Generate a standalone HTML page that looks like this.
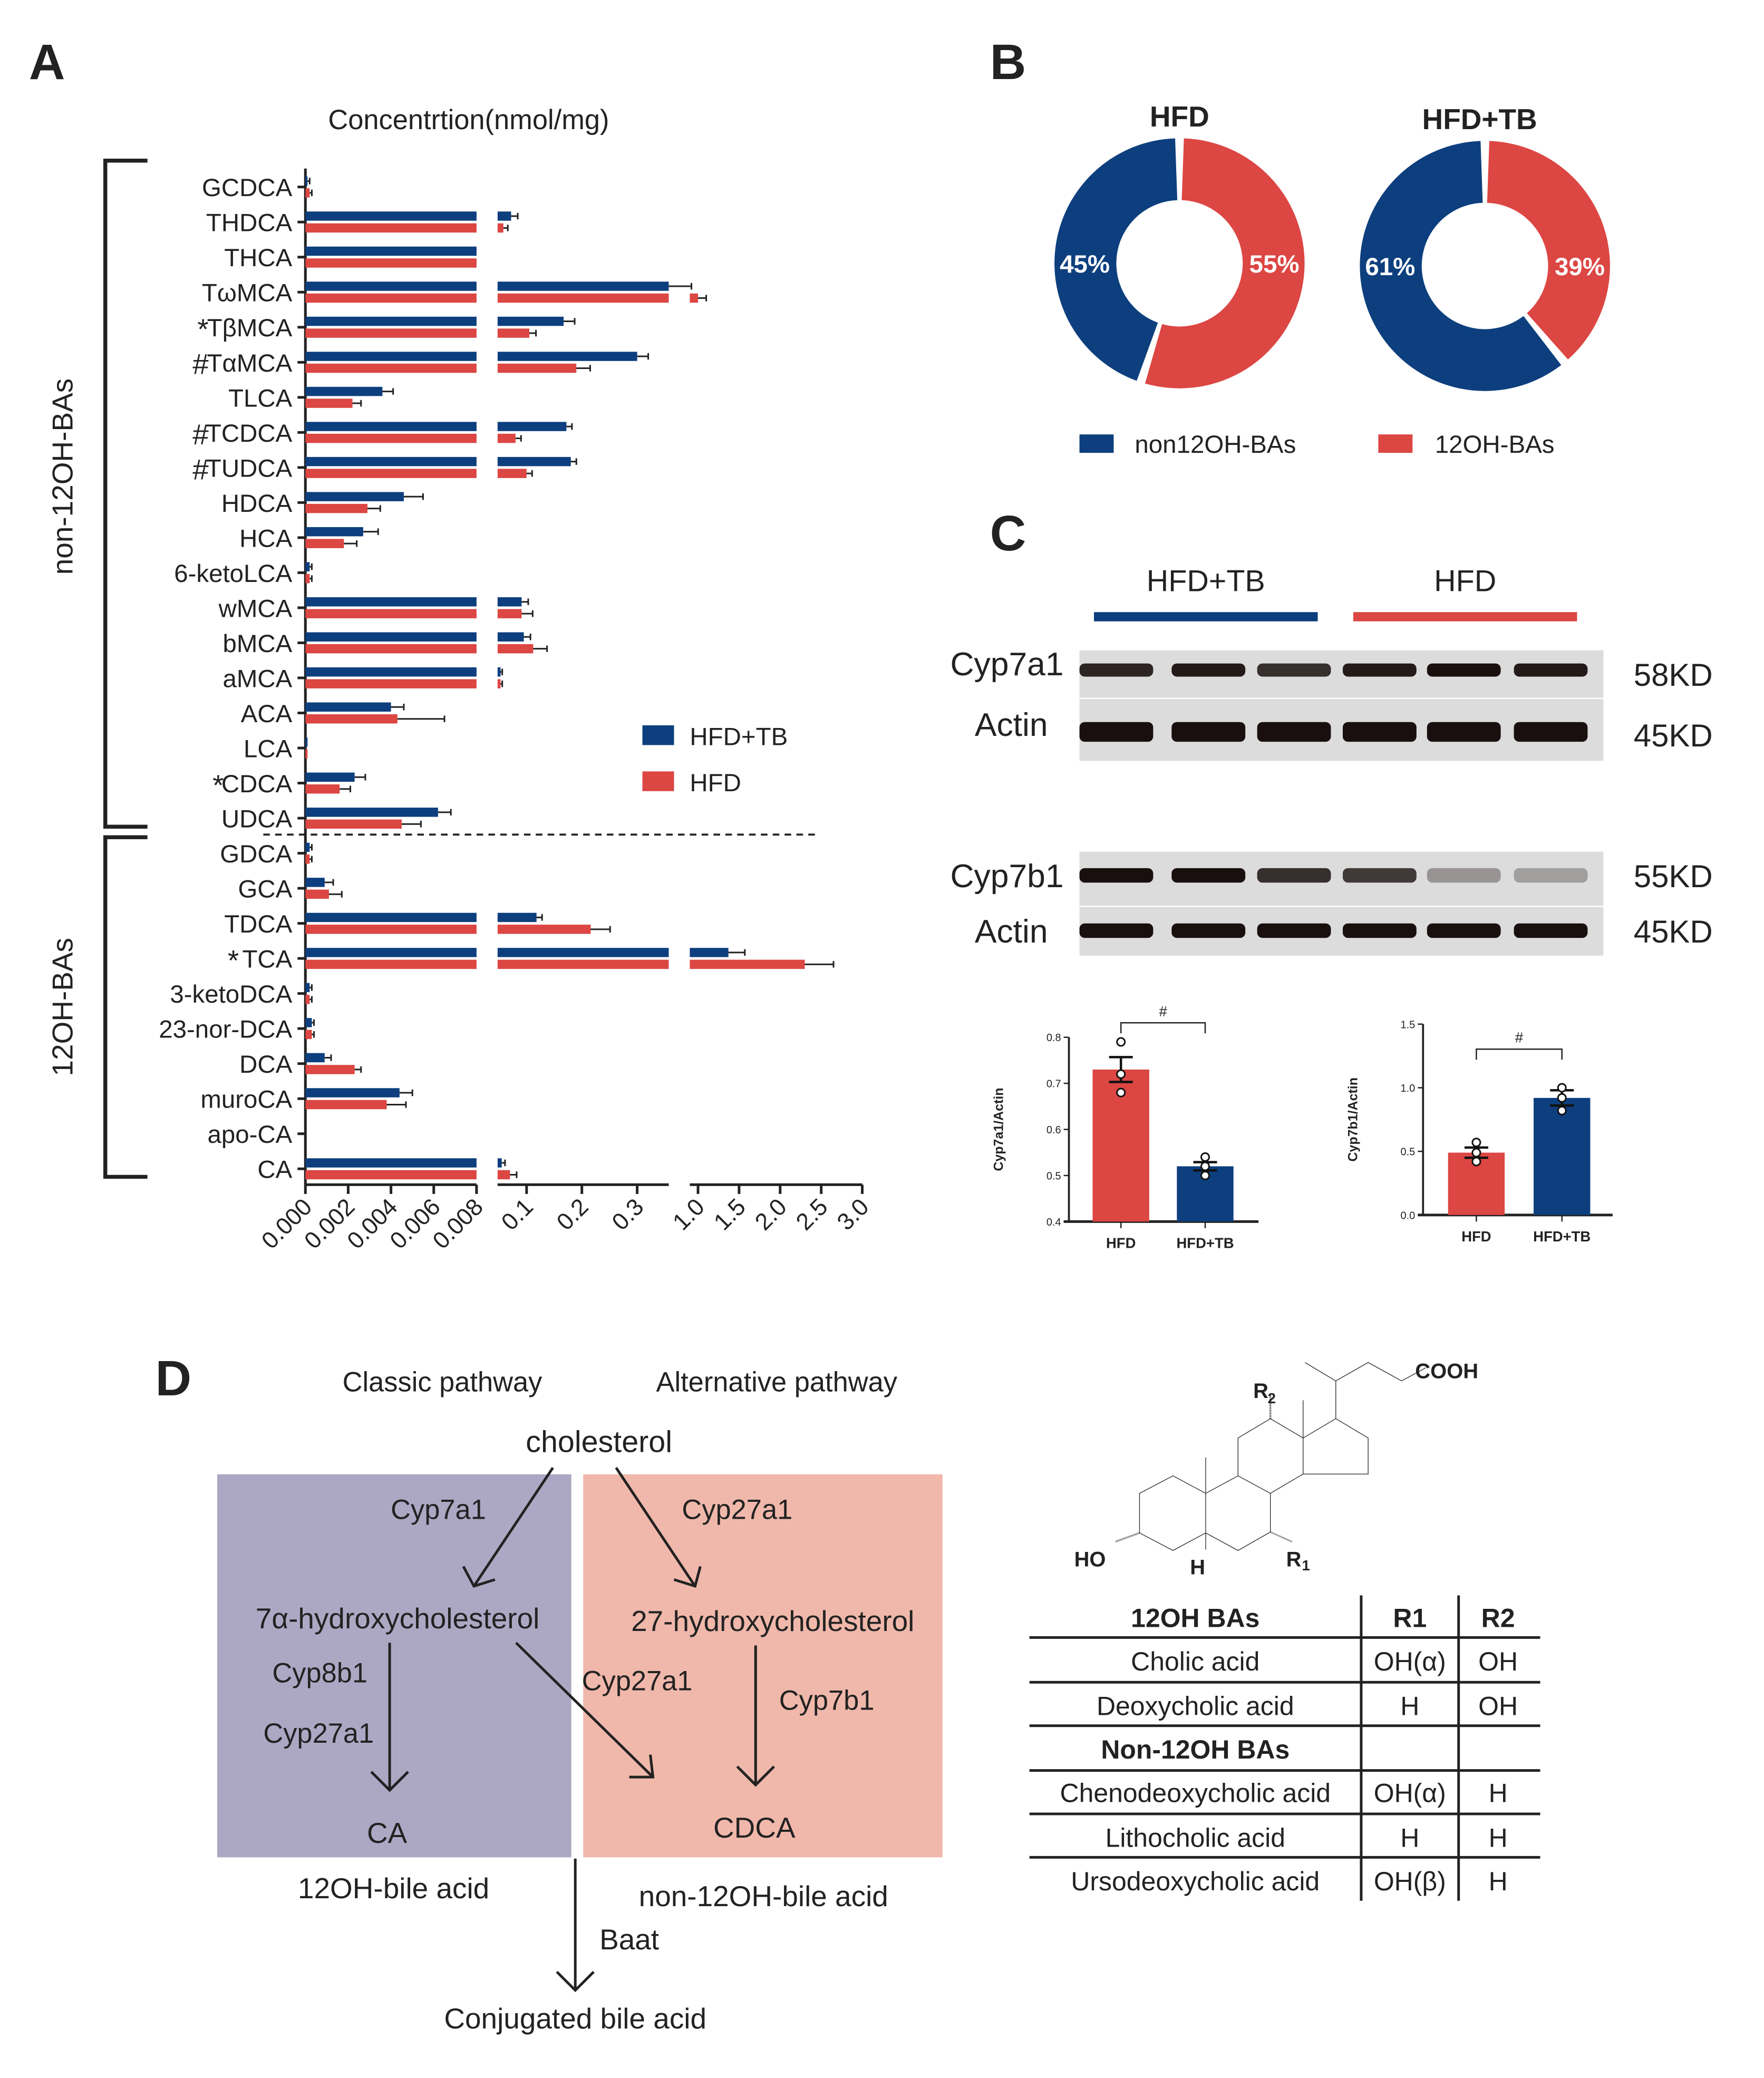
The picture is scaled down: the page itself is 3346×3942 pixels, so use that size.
<!DOCTYPE html>
<html><head><meta charset="utf-8"><style>
html,body{margin:0;padding:0;background:#fff}
svg{display:block}
text{font-family:"Liberation Sans",sans-serif;fill:#222}
</style></head><body>
<svg id="fig" width="3346" height="3942" viewBox="0 0 1340 1578.6" xmlns="http://www.w3.org/2000/svg">
<rect width="1340" height="1578.6" fill="#fff"/>
<g id="panelA">
<text x="22" y="60" font-size="38" font-weight="bold">A</text>
<text x="356" y="98" font-size="21" text-anchor="middle">Concentrtion(nmol/mg)</text>
<path d="M112,122 H80 V628 H112" fill="none" stroke="#222" stroke-width="3"/>
<path d="M112,636 H80 V894 H112" fill="none" stroke="#222" stroke-width="3"/>
<text transform="translate(55,362) rotate(-90)" font-size="22" text-anchor="middle">non-12OH-BAs</text>
<text transform="translate(55,765) rotate(-90)" font-size="22" text-anchor="middle">12OH-BAs</text>
<line x1="200" y1="634" x2="620" y2="634" stroke="#222" stroke-width="1.5" stroke-dasharray="5,4"/>
<g id="chartA"></g>
<rect x="488" y="551" width="24" height="15" fill="#0d3f7e"/>
<text x="524" y="566" font-size="19">HFD+TB</text>
<rect x="488" y="586" width="24" height="15" fill="#dc4643"/>
<text x="524" y="601" font-size="19">HFD</text>
</g>

<g id="panelB">
<text x="752" y="60" font-size="38" font-weight="bold">B</text>
<text x="896" y="96" font-size="22" font-weight="bold" text-anchor="middle">HFD</text>
<text x="1124" y="98" font-size="22" font-weight="bold" text-anchor="middle">HFD+TB</text>
<g id="donuts"></g>
<rect x="820" y="330" width="26" height="14" fill="#0d3f7e"/>
<text x="862" y="344" font-size="19">non12OH-BAs</text>
<rect x="1047" y="330" width="26" height="14" fill="#dc4643"/>
<text x="1090" y="344" font-size="19">12OH-BAs</text>
</g>

<g id="panelC">
<text x="752" y="418" font-size="38" font-weight="bold">C</text>
<text x="916" y="449" font-size="23" text-anchor="middle">HFD+TB</text>
<text x="1113" y="449" font-size="23" text-anchor="middle">HFD</text>
<rect x="831" y="465" width="170" height="7" fill="#0d3f7e"/>
<rect x="1028" y="465" width="170" height="7" fill="#dc4643"/>
<g id="blots"></g>
<text x="808" y="513" font-size="25" text-anchor="end">Cyp7a1</text>
<text x="796" y="559" font-size="25" text-anchor="end">Actin</text>
<text x="808" y="674" font-size="25" text-anchor="end">Cyp7b1</text>
<text x="796" y="716" font-size="25" text-anchor="end">Actin</text>
<text x="1241" y="521" font-size="24">58KD</text>
<text x="1241" y="567" font-size="24">45KD</text>
<text x="1241" y="674" font-size="24">55KD</text>
<text x="1241" y="716" font-size="24">45KD</text>
<g id="barsC"></g>
</g>

<g id="panelD">
<text x="118" y="1060" font-size="38" font-weight="bold">D</text>
<text x="336" y="1057" font-size="21" text-anchor="middle">Classic pathway</text>
<text x="590" y="1057" font-size="21" text-anchor="middle">Alternative pathway</text>
<rect x="165" y="1120" width="269" height="291" fill="#aca8c4"/>
<rect x="443" y="1120" width="273" height="291" fill="#f0b8ab"/>
<text x="455" y="1103" font-size="23" text-anchor="middle">cholesterol</text>
<g stroke="#222" stroke-width="2" fill="none">
<path d="M420,1115 L360,1205 M352,1190 L360,1205 L376,1200"/>
<path d="M468,1115 L528,1205 M512,1200 L528,1205 L532,1190"/>
<path d="M296,1248 V1360 M282,1346 L296,1360 L310,1346"/>
<path d="M392,1248 L496,1350 M478,1350 L496,1350 L494,1333"/>
<path d="M574,1250 V1356 M560,1342 L574,1356 L588,1342"/>
<path d="M437,1412 V1512 M423,1498 L437,1512 L451,1498"/>
</g>
<text x="333" y="1154" font-size="21" text-anchor="middle">Cyp7a1</text>
<text x="560" y="1154" font-size="21" text-anchor="middle">Cyp27a1</text>
<text x="302" y="1237" font-size="22" text-anchor="middle">7α-hydroxycholesterol</text>
<text x="587" y="1239" font-size="22" text-anchor="middle">27-hydroxycholesterol</text>
<text x="243" y="1278" font-size="21" text-anchor="middle">Cyp8b1</text>
<text x="242" y="1324" font-size="21" text-anchor="middle">Cyp27a1</text>
<text x="484" y="1284" font-size="21" text-anchor="middle">Cyp27a1</text>
<text x="628" y="1299" font-size="21" text-anchor="middle">Cyp7b1</text>
<text x="294" y="1400" font-size="22" text-anchor="middle">CA</text>
<text x="573" y="1396" font-size="22" text-anchor="middle">CDCA</text>
<text x="299" y="1442" font-size="22" text-anchor="middle">12OH-bile acid</text>
<text x="580" y="1448" font-size="22" text-anchor="middle">non-12OH-bile acid</text>
<text x="478" y="1481" font-size="22" text-anchor="middle">Baat</text>
<text x="437" y="1541" font-size="22" text-anchor="middle">Conjugated bile acid</text>

<g>
<g transform="translate(780.9,1009) scale(0.2824,0.1335)" stroke="#333" stroke-width="1.4" fill="none">
<path vector-effect="non-scaling-stroke" d="M300,940 L390,840 L478,940 L478,1165 L390,1265 L300,1165 Z"/>
<path vector-effect="non-scaling-stroke" d="M478,940 L565,840 L652,940 L652,1160 L565,1265 L478,1165"/>
<path vector-effect="non-scaling-stroke" d="M565,840 L565,625 L652,515 L740,625 L740,830 L652,940"/>
<path vector-effect="non-scaling-stroke" d="M740,625 L828,515 L915,625 L915,830 L740,830"/>
<path vector-effect="non-scaling-stroke" d="M828,515 L828,300 L745,195 M828,300 L915,195 L1005,300 L1070,225"/>
<path vector-effect="non-scaling-stroke" d="M478,940 L478,735 M740,625 L740,410 M478,1165 L478,1260"/>
<path vector-effect="non-scaling-stroke" d="M652,515 L652,380" stroke-dasharray="1.5,1.5" stroke-width="3.5"/>
<path vector-effect="non-scaling-stroke" d="M300,1165 L235,1215" stroke-dasharray="1,1.2" stroke-width="3.5"/>
<path vector-effect="non-scaling-stroke" d="M652,1160 L710,1215" stroke-dasharray="1,1.2" stroke-width="3"/>
</g>
<text x="1075" y="1047" font-size="16" font-weight="bold">COOH</text>
<text x="952" y="1062" font-size="16" font-weight="bold">R</text>
<text x="963" y="1066" font-size="11" font-weight="bold">2</text>
<text x="816" y="1190" font-size="16" font-weight="bold">HO</text>
<text x="904" y="1196" font-size="16" font-weight="bold">H</text>
<text x="977" y="1190" font-size="16" font-weight="bold">R</text>
<text x="989" y="1193" font-size="11" font-weight="bold">1</text>
</g>

<g>
<g stroke="#222" stroke-width="2">
<line x1="782" y1="1244" x2="1170" y2="1244"/>
<line x1="782" y1="1278" x2="1170" y2="1278"/>
<line x1="782" y1="1311" x2="1170" y2="1311"/>
<line x1="782" y1="1345" x2="1170" y2="1345"/>
<line x1="782" y1="1378" x2="1170" y2="1378"/>
<line x1="782" y1="1411" x2="1170" y2="1411"/>
<line x1="1034" y1="1212" x2="1034" y2="1444"/>
<line x1="1108" y1="1212" x2="1108" y2="1444"/>
</g>
<g font-size="20" text-anchor="middle">
<text x="908" y="1236" font-weight="bold">12OH BAs</text><text x="1071" y="1236" font-weight="bold">R1</text><text x="1138" y="1236" font-weight="bold">R2</text>
<text x="908" y="1269">Cholic acid</text><text x="1071" y="1269">OH(α)</text><text x="1138" y="1269">OH</text>
<text x="908" y="1303">Deoxycholic acid</text><text x="1071" y="1303">H</text><text x="1138" y="1303">OH</text>
<text x="908" y="1336" font-weight="bold">Non-12OH BAs</text>
<text x="908" y="1369">Chenodeoxycholic acid</text><text x="1071" y="1369">OH(α)</text><text x="1138" y="1369">H</text>
<text x="908" y="1403">Lithocholic acid</text><text x="1071" y="1403">H</text><text x="1138" y="1403">H</text>
<text x="908" y="1436">Ursodeoxycholic acid</text><text x="1071" y="1436">OH(β)</text><text x="1138" y="1436">H</text>
</g>
</g>
</g>
</svg>
<script>
const NS="http://www.w3.org/2000/svg";
const categories=["GCDCA","THDCA","THCA","TωMCA","TβMCA","TαMCA","TLCA","TCDCA","TUDCA","HDCA","HCA","6-ketoLCA","wMCA","bMCA","aMCA","ACA","LCA","CDCA","UDCA","GDCA","GCA","TDCA","TCA","3-ketoDCA","23-nor-DCA","DCA","muroCA","apo-CA","CA"];
const marks=["","","","","*","#","","#","#","","","","","","","","","*","","","","","*","","","","","",""];
const hfdtbValues=[0.0001,0.072,0.0081,0.9,0.167,0.30,0.0036,0.172,0.18,0.0046,0.0027,0.0002,0.091,0.095,0.053,0.0040,0.0001,0.0023,0.0062,0.0002,0.0009,0.118,1.37,0.0002,0.0003,0.0009,0.0044,0.0,0.055];
const hfdValues=[0.0002,0.058,0.0081,1.0,0.105,0.19,0.0022,0.080,0.10,0.0029,0.0018,0.0002,0.091,0.112,0.053,0.0043,0.0001,0.0016,0.0045,0.0002,0.0011,0.216,2.3,0.0002,0.0003,0.0023,0.0038,0.0,0.070];
const hfdtbErr=[0.0001,0.012,0,0.02,0.02,0.02,0.0005,0.01,0.01,0.0009,0.0007,0.0001,0.012,0.012,0.003,0.0006,0,0.0005,0.0006,0.0001,0.0004,0.01,0.2,0.0001,0.0001,0.0003,0.0006,0,0.006];
const hfdErr=[0.0001,0.008,0,0.1,0.012,0.025,0.0004,0.01,0.01,0.0006,0.0006,0.0001,0.02,0.025,0.003,0.0022,0,0.0005,0.0009,0.0001,0.0006,0.035,0.35,0.0001,0.0001,0.0003,0.0009,0,0.012];
const ticks1=["0.000","0.002","0.004","0.006","0.008"];const tickVals1=[0,0.002,0.004,0.006,0.008];
const ticks2=["0.1","0.2","0.3"];const tickVals2=[0.1,0.2,0.3];
const ticks3=["1.0","1.5","2.0","2.5","3.0"];const tickVals3=[1.0,1.5,2.0,2.5,3.0];
const donutNames=["HFD","HFD+TB"];const donutNon12=[45,61];const donut12=[55,39];
const barGroups=["HFD","HFD+TB"];
const cyp7a1Values=[0.73,0.52];const cyp7a1Err=[0.027,0.009];
const cyp7a1Points=[[0.79,0.72,0.68],[0.54,0.52,0.50]];
const cyp7b1Values=[0.49,0.92];const cyp7b1Err=[0.04,0.06];
const cyp7b1Points=[[0.57,0.49,0.42],[1.0,0.92,0.82]];
const cyp7a1Ticks=[0.4,0.5,0.6,0.7,0.8];const cyp7b1Ticks=[0,0.5,1.0,1.5];
const blot1Bands=[0.9,0.95,0.85,0.95,1,0.95];const actin1Bands=[1,1,1,1,1,1];
const blot2Bands=[1,1,0.85,0.8,0.35,0.3];const actin2Bands=[1,1,1,1,1,1];

function el(tag,attrs,parent){const e=document.createElementNS(NS,tag);for(const k in attrs)e.setAttribute(k,attrs[k]);parent.appendChild(e);return e;}
const BLUE="#0d3f7e",RED="#dc4643";
const y0=142,step=26.64,axX=232,axY=900;
const s1=[232,362,0,0.008],s2=[378,508,0.0476,0.3571],s3=[524,655,0.9,3.0];
function sx(s,v){return s[0]+(v-s[2])/(s[3]-s[2])*(s[1]-s[0]);}
function rowY(i){return y0+i*step;}
function pieces(v){const p=[];if(v>0)p.push([s1[0],sx(s1,Math.min(v,s1[3]))]);
if(v>s2[2])p.push([s2[0],sx(s2,Math.min(v,s2[3]))]);
if(v>s3[2])p.push([s3[0],sx(s3,Math.min(v,s3[3]))]);return p;}
function endX(v){if(v>s3[2])return sx(s3,v);if(v>s2[2])return sx(s2,Math.min(v,s2[3]));return sx(s1,Math.min(v,s1[3]));}
const gA=document.getElementById("chartA");
el("line",{x1:axX,y1:128,x2:axX,y2:axY,stroke:"#222","stroke-width":2},gA);
[s1,s2,s3].forEach((s,k)=>{const l=el("line",{x1:s[0],y1:axY,x2:s[1],y2:axY,stroke:"#222","stroke-width":2},gA);

});
function tickSet(s,vals,labs){vals.forEach((v,i)=>{const x=sx(s,v);el("line",{x1:x,y1:axY,x2:x,y2:axY+7,stroke:"#222","stroke-width":2},gA);
const t=el("text",{transform:`translate(${x+6},${axY+18}) rotate(-45)`,"font-size":18,"text-anchor":"end"},gA);t.textContent=labs[i];

});}
tickSet(s1,tickVals1,ticks1);tickSet(s2,tickVals2,ticks2);tickSet(s3,tickVals3,ticks3);
categories.forEach((c,i)=>{const y=rowY(i);
el("line",{x1:axX-6,y1:y,x2:axX,y2:y,stroke:"#222","stroke-width":2},gA);
const t=el("text",{x:axX-10,y:y+7,"font-size":19,"text-anchor":"end"},gA);t.textContent=c;


if(marks[i]){const m=el("text",{x:axX-10-c.length*11.5-6,y:y+9,"font-size":22,"text-anchor":"end"},gA);m.textContent=marks[i];

}
[[hfdtbValues,hfdtbErr,BLUE,y-8,'bar-hfdtb'],[hfdValues,hfdErr,RED,y+1,'bar-hfd']].forEach(([vals,errs,col,yy,nm])=>{
pieces(vals[i]).forEach(p=>{const r=el("rect",{x:p[0],y:yy,width:Math.max(p[1]-p[0],0.5),height:7,fill:col},gA);

});
if(errs[i]>0){const x1=endX(vals[i]),x2=endX(vals[i]+errs[i]);
el("path",{d:`M${x1},${yy+3.5} H${x2} M${x2},${yy+1} V${yy+6}`,stroke:"#222","stroke-width":1.2,fill:"none"},gA);}
});});
const gD=document.getElementById("donuts");const centers=[[896,200],[1128,202]];
function arc(cx,cy,R,r,a0,a1){const p=(a,rad)=>[cx+rad*Math.sin(a),cy-rad*Math.cos(a)];const lg=(a1-a0)>Math.PI?1:0;
const [x0,y0_]=p(a0,R),[x1,y1]=p(a1,R),[x2,y2]=p(a1,r),[x3,y3]=p(a0,r);
return `M${x0},${y0_} A${R},${R} 0 ${lg} 1 ${x1},${y1} L${x2},${y2} A${r},${r} 0 ${lg} 0 ${x3},${y3} Z`;}
donutNames.forEach((n,i)=>{const [cx,cy]=centers[i];const g=0.07;const redEnd=donut12[i]/100*2*Math.PI;
const pr=el("path",{d:arc(cx,cy,95,48,g/2,redEnd-g/2),fill:RED},gD);


const pb=el("path",{d:arc(cx,cy,95,48,redEnd+g/2,2*Math.PI-g/2),fill:BLUE},gD);


const tl=el("text",{x:cx-72,y:cy+7,"font-size":19,"font-weight":"bold","text-anchor":"middle"},gD);tl.textContent=donutNon12[i]+"%";tl.style.fill="#fff";


const tr=el("text",{x:cx+72,y:cy+7,"font-size":19,"font-weight":"bold","text-anchor":"middle"},gD);tr.textContent=donut12[i]+"%";tr.style.fill="#fff";

});
const gB=document.getElementById("blots");const laneX=[848,918,983,1048,1112,1178];
function blot(y,h,bands,bandY,bh,nm){const r=el("rect",{x:820,y:y,width:398,height:h,fill:"#dcdcdc"},gB);


bands.forEach((b,k)=>{const e=el("rect",{x:laneX[k]-28,y:bandY-bh/2,width:56,height:bh,rx:4,fill:"#1a0f0f","fill-opacity":b},gB);

});}
blot(494,36,blot1Bands,509,10,'blot-cyp7a1');blot(531,47,actin1Bands,556,15,'blot-actin-1');
blot(647,41,blot2Bands,665,11,'blot-cyp7b1');blot(689,37,actin2Bands,707,11,'blot-actin-2');
const gC=document.getElementById("barsC");
function barChart(ax,yTop,yBot,vMin,vMax,ticks,vals,errs,pts,bx,label,sigY){
const sy=v=>yBot-(v-vMin)/(vMax-vMin)*(yBot-yTop);
el("line",{x1:ax,y1:yTop,x2:ax,y2:yBot,stroke:"#222","stroke-width":1.5},gC);
el("line",{x1:ax-4,y1:yBot,x2:ax+144,y2:yBot,stroke:"#222","stroke-width":2},gC);
ticks.forEach(t=>{el("line",{x1:ax-4,y1:sy(t),x2:ax,y2:sy(t),stroke:"#222"},gC);
const tt=el("text",{x:ax-6,y:sy(t)+3,"font-size":8,"text-anchor":"end"},gC);tt.textContent=t.toFixed(1);

});
const yl=el("text",{transform:`translate(${ax-50},${(yTop+yBot)/2}) rotate(-90)`,"font-size":10,"font-weight":"bold","text-anchor":"middle"},gC);yl.textContent=label;


vals.forEach((v,i)=>{const x=bx[i];const r=el("rect",{x:x,y:sy(v),width:43,height:yBot-sy(v),fill:i?BLUE:RED},gC);


const cx=x+21.5;el("path",{d:`M${cx},${sy(v-errs[i])} V${sy(v+errs[i])} M${cx-9},${sy(v+errs[i])} H${cx+9} M${cx-9},${sy(v-errs[i])} H${cx+9}`,stroke:"#111","stroke-width":1.8,fill:"none"},gC);
pts[i].forEach(p=>el("circle",{cx:cx,cy:sy(p),r:3,fill:"#fff",stroke:"#111","stroke-width":1.2},gC));
el("line",{x1:cx,y1:yBot,x2:cx,y2:yBot+5,stroke:"#222"},gC);
const xl=el("text",{x:cx,y:yBot+20,"font-size":11,"font-weight":"bold","text-anchor":"middle"},gC);xl.textContent=barGroups[i];

});
const c1=bx[0]+21.5,c2=bx[1]+21.5;el("path",{d:`M${c1},${sigY+8} V${sigY} H${c2} V${sigY+8}`,stroke:"#222",fill:"none"},gC);
const st=el("text",{x:(c1+c2)/2,y:sigY-5,"font-size":11,"text-anchor":"middle"},gC);st.textContent="#";

}
barChart(812,788,928,0.4,0.8,cyp7a1Ticks,cyp7a1Values,cyp7a1Err,cyp7a1Points,[830,894],"Cyp7a1/Actin",777);
barChart(1081,778,923,0,1.5,cyp7b1Ticks,cyp7b1Values,cyp7b1Err,cyp7b1Points,[1100,1165],"Cyp7b1/Actin",797);
</script>
</body></html>
